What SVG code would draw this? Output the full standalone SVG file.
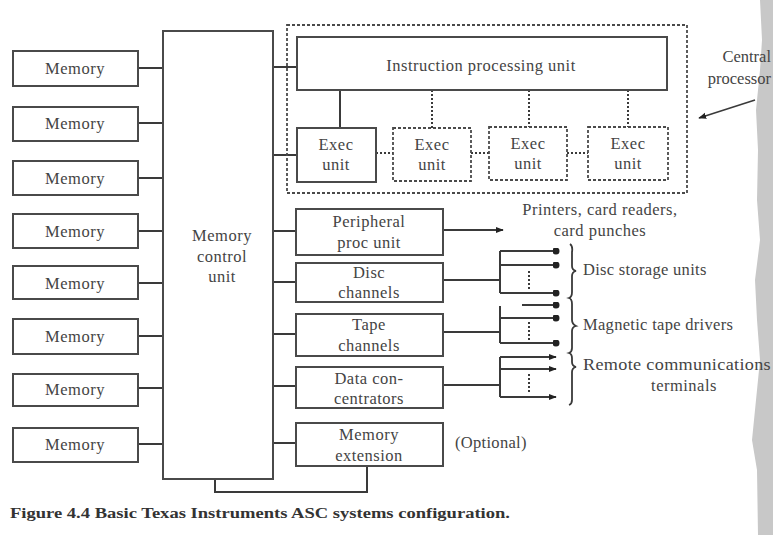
<svg xmlns="http://www.w3.org/2000/svg" width="773" height="535" viewBox="0 0 773 535">
<defs>
<style>
.box{fill:#fff;stroke:#4a4a4a;stroke-width:2}
.dbox{fill:#fff;stroke:#4a4a4a;stroke-width:1.8;stroke-dasharray:3 2}
.ln{fill:none;stroke:#3a3a3a;stroke-width:2}
.dl{fill:none;stroke:#3a3a3a;stroke-width:2;stroke-dasharray:2 2}
.t{font-family:"Liberation Serif","Times New Roman",serif;font-size:16.5px;fill:#444;text-anchor:middle;letter-spacing:0.5px}
.tl{font-family:"Liberation Serif","Times New Roman",serif;font-size:16.5px;fill:#444;letter-spacing:0.3px}
.te{font-family:"Liberation Serif","Times New Roman",serif;font-size:16.5px;fill:#444;text-anchor:end}
.cap{font-family:"Liberation Serif","Times New Roman",serif;font-size:14.5px;font-weight:bold;fill:#333}
</style>
<marker id="ah" viewBox="0 0 10 10" refX="9" refY="5" markerWidth="8" markerHeight="8" orient="auto" markerUnits="userSpaceOnUse"><path d="M0,1 L10,5 L0,9 z" fill="#222"/></marker>
<marker id="dt" viewBox="0 0 10 10" refX="5" refY="5" markerWidth="7" markerHeight="7" markerUnits="userSpaceOnUse"><circle cx="5" cy="5" r="5" fill="#222"/></marker>
</defs>
<rect width="773" height="535" fill="#fff"/>
<path d="M760,0H773V535H758L757,470L752,440L756,400L760,360L757,320L755,280L760,240L757,200L758,150L756,110L760,70L762,40z" fill="#c8c8c8"/>

<g id="connectors">
<path class="ln" d="M138,68H163M138,123H163M138,178H163M138,231H163M138,283H163M138,336H163M138,388H163M138,444H163"/>
<path class="ln" d="M273,67H297M273,155H297M273,231H296M273,282H296M273,334H296M273,386H296M273,443H296"/>
<path class="ln" d="M215,479V492H367V466"/>
<path class="ln" d="M340,90V128"/>
<path class="dl" d="M432,90V128M529,90V128M628,90V127"/>
<path class="dl" d="M376,153H393M471,153H489M567,153H588"/>
<path class="ln" d="M443,230H503" marker-end="url(#ah)"/>
<!-- disc -->
<path class="ln" d="M443,280H500M500,251V293"/>
<path class="ln" d="M500,251H556" marker-end="url(#dt)"/>
<path class="ln" d="M500,265H556" marker-end="url(#dt)"/>
<path class="ln" d="M500,293H556" marker-end="url(#dt)"/>
<path class="dl" d="M529,271V291"/>
<!-- tape -->
<path class="ln" d="M443,332H500M500,306V343"/>
<path class="ln" d="M522,305H556" marker-end="url(#dt)"/>
<path class="ln" d="M500,318H556" marker-end="url(#dt)"/>
<path class="ln" d="M500,343H556" marker-end="url(#dt)"/>
<path class="dl" d="M529,322V341"/>
<!-- data -->
<path class="ln" d="M443,385H500M500,357V397"/>
<path class="ln" d="M500,357H556" marker-end="url(#ah)"/>
<path class="ln" d="M500,369H556" marker-end="url(#ah)"/>
<path class="ln" d="M500,397H556" marker-end="url(#ah)"/>
<path class="dl" d="M529,374V394"/>
<!-- braces -->
<path class="ln" style="stroke-width:1.8" d="M570,244Q573,246 572,252V266Q572,270 576,271Q572,272 572,276V292Q572,297 569,298Q572,299 572,304V320Q572,324 576,326Q572,327 572,331V348Q572,352 569,353Q572,354 572,358V362Q572,366 576,367Q572,368 572,372V400Q572,404 569,405"/>
<path class="ln" style="stroke-width:1.6" d="M755,100L699,118" marker-end="url(#ah)"/>
</g>

<g id="mem1"><rect class="box" x="13" y="51" width="125" height="35"/><text class="t" x="75" y="74">Memory</text></g>
<g id="mem2"><rect class="box" x="13" y="107" width="125" height="34"/><text class="t" x="75" y="129">Memory</text></g>
<g id="mem3"><rect class="box" x="13" y="161" width="125" height="34"/><text class="t" x="75" y="184">Memory</text></g>
<g id="mem4"><rect class="box" x="13" y="214" width="125" height="34"/><text class="t" x="75" y="237">Memory</text></g>
<g id="mem5"><rect class="box" x="13" y="266" width="125" height="33"/><text class="t" x="75" y="289">Memory</text></g>
<g id="mem6"><rect class="box" x="13" y="319" width="125" height="35"/><text class="t" x="75" y="342">Memory</text></g>
<g id="mem7"><rect class="box" x="13" y="374" width="125" height="32"/><text class="t" x="75" y="395">Memory</text></g>
<g id="mem8"><rect class="box" x="13" y="428" width="125" height="34"/><text class="t" x="75" y="450">Memory</text></g>

<g id="mcu"><rect class="box" x="163" y="31" width="110" height="448"/>
<text class="t" x="222" y="241">Memory</text><text class="t" x="222" y="262">control</text><text class="t" x="222" y="282">unit</text></g>

<g id="cpu"><rect class="dbox" x="287" y="25" width="400" height="168" style="fill:none"/></g>
<g id="ipu"><rect class="box" x="297" y="37" width="370" height="53"/><text class="t" x="481" y="71">Instruction processing unit</text></g>
<g id="exec1"><rect class="box" x="297" y="128" width="79" height="54"/><text class="t" x="336" y="150">Exec</text><text class="t" x="336" y="170">unit</text></g>
<g id="exec2"><rect class="dbox" x="393" y="128" width="78" height="53"/><text class="t" x="432" y="150">Exec</text><text class="t" x="432" y="170">unit</text></g>
<g id="exec3"><rect class="dbox" x="489" y="127" width="78" height="53"/><text class="t" x="528" y="149">Exec</text><text class="t" x="528" y="169">unit</text></g>
<g id="exec4"><rect class="dbox" x="588" y="127" width="80" height="53"/><text class="t" x="628" y="149">Exec</text><text class="t" x="628" y="169">unit</text></g>

<g id="ppu"><rect class="box" x="296" y="209" width="147" height="46"/><text class="t" x="369" y="227">Peripheral</text><text class="t" x="369" y="248">proc unit</text></g>
<g id="disc"><rect class="box" x="296" y="263" width="147" height="39"/><text class="t" x="369" y="278">Disc</text><text class="t" x="369" y="298">channels</text></g>
<g id="tape"><rect class="box" x="296" y="314" width="147" height="42"/><text class="t" x="369" y="330">Tape</text><text class="t" x="369" y="351">channels</text></g>
<g id="datacon"><rect class="box" x="296" y="367" width="147" height="41"/><text class="t" x="369" y="384">Data con-</text><text class="t" x="369" y="404">centrators</text></g>
<g id="memext"><rect class="box" x="296" y="423" width="147" height="43"/><text class="t" x="369" y="440">Memory</text><text class="t" x="369" y="461">extension</text></g>

<g id="labels">
<text class="t" x="600" y="215">Printers, card readers,</text>
<text class="t" x="600" y="236">card punches</text>
<text class="tl" x="583" y="275">Disc storage units</text>
<text class="tl" x="583" y="330">Magnetic tape drivers</text>
<text class="tl" x="583" y="370" textLength="188" lengthAdjust="spacingAndGlyphs">Remote communications</text>
<text class="t" x="684" y="391">terminals</text>
<text class="tl" x="455" y="448">(Optional)</text>
<text class="te" x="771" y="62">Central</text>
<text class="te" x="771" y="84">processor</text>
</g>

<text class="cap" x="10" y="518" textLength="500" lengthAdjust="spacingAndGlyphs">Figure 4.4  Basic Texas Instruments ASC systems configuration.</text>
</svg>
